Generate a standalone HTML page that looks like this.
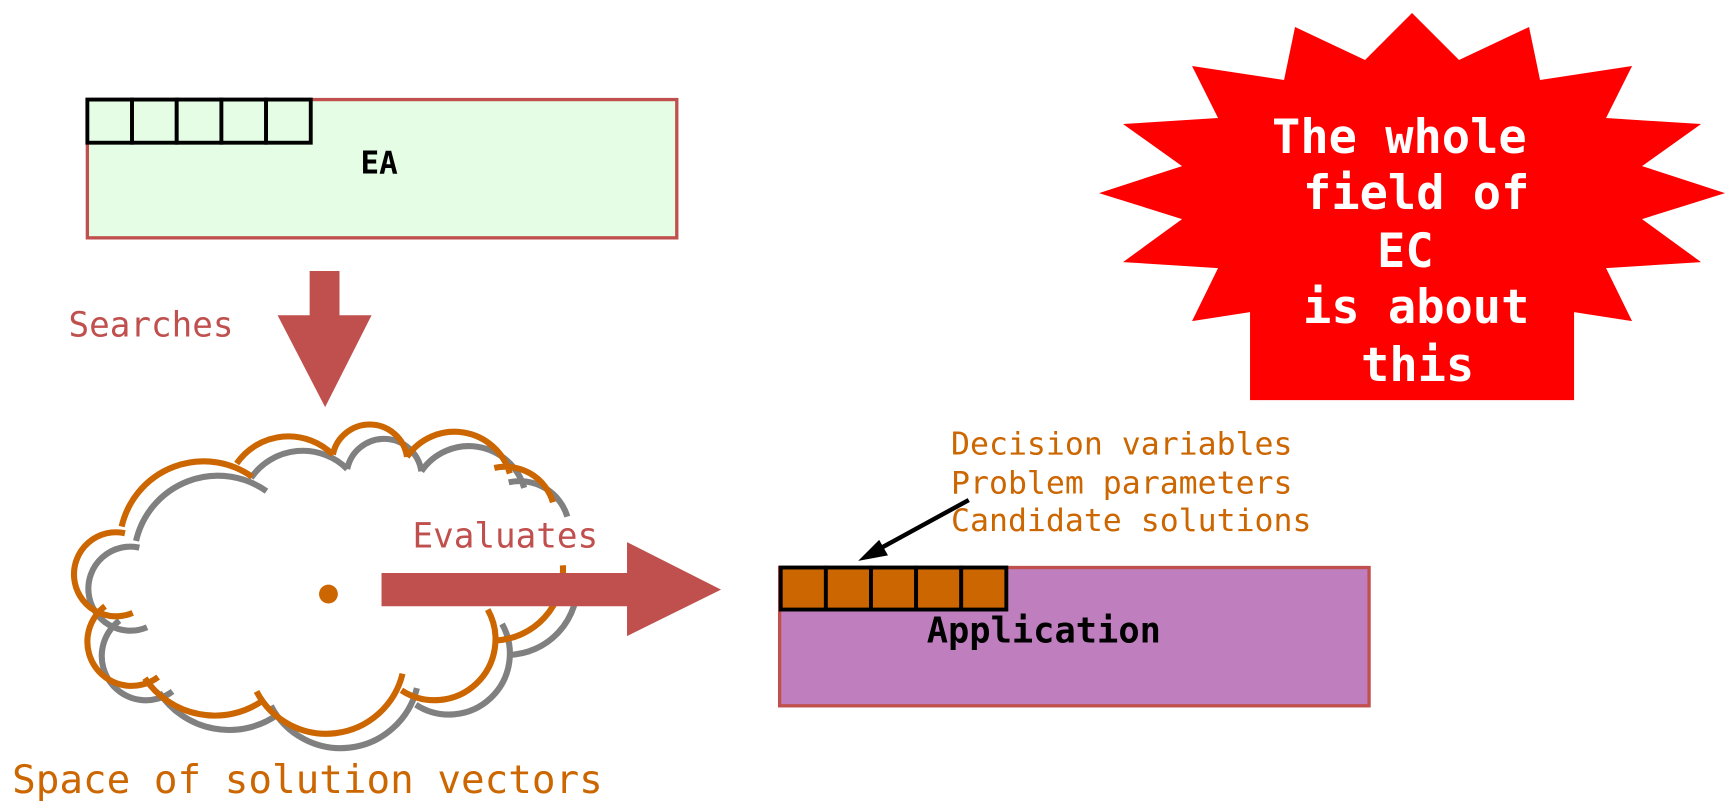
<!DOCTYPE html>
<html><head><meta charset="utf-8"><style>html,body{margin:0;padding:0;background:#fff;overflow:hidden}svg{display:block}</style></head>
<body>
<svg width="1734" height="812" viewBox="0 0 1568 734" preserveAspectRatio="none" xmlns="http://www.w3.org/2000/svg" font-family="'DejaVu Sans Mono','Liberation Mono',monospace">
<!-- EA box -->
<rect x="79" y="90" width="533" height="125" fill="#e4fde4" stroke="#c0504d" stroke-width="3"/>
<g fill="#e4fde4" stroke="#000" stroke-width="3.5">
<rect x="79" y="90" width="40.4" height="39"/><rect x="119.4" y="90" width="40.4" height="39"/><rect x="159.8" y="90" width="40.4" height="39"/><rect x="200.2" y="90" width="40.4" height="39"/><rect x="240.6" y="90" width="40.4" height="39"/>
</g>
<text x="326" y="157" font-size="28" font-weight="bold" fill="#000">EA</text>
<!-- Searches arrow -->
<polygon points="280,245 307,245 307,285 336,285 294,368 251,285 280,285" fill="#c0504d"/>
<text x="62" y="304" font-size="31" fill="#c0504d">Searches</text>
<!-- cloud -->
<g fill="none" stroke-width="5.5">
<path stroke="#808080" transform="translate(13,13)" d="M120,554 A38 38 0 1 1 113,482 M110,476 A76 76 0 0 1 228,431 M214,419 A57 57 0 0 1 301,411 M301,411 A34 34 0 0 1 368,413 M368,413 A52 52 0 0 1 461,428 M447,423 A45 45 0 0 1 500,454 M509,511 A64 64 0 0 1 447,579 M441,551 A55 55 0 0 1 363,624 M364,609 A71 71 0 0 1 232,625 M238,633 A76 76 0 0 1 131,613 M143,612 A38 38 0 0 1 95,548"/>
<path stroke="#cc6600" d="M120,554 A38 38 0 1 1 113,482 M110,476 A76 76 0 0 1 228,431 M214,419 A57 57 0 0 1 301,411 M301,411 A34 34 0 0 1 368,413 M368,413 A52 52 0 0 1 461,428 M447,423 A45 45 0 0 1 500,454 M509,511 A64 64 0 0 1 447,579 M441,551 A55 55 0 0 1 363,624 M364,609 A71 71 0 0 1 232,625 M238,633 A76 76 0 0 1 131,613 M143,612 A38 38 0 0 1 95,548"/>
</g>
<circle cx="297" cy="537" r="8.5" fill="#cc6600"/>
<!-- Evaluates arrow -->
<polygon points="345,518 567,518 567,490 652,533 567,575 567,548 345,548" fill="#c0504d"/>
<text x="373" y="495" font-size="31" fill="#c0504d">Evaluates</text>
<text x="11" y="717" font-size="35.5" fill="#cc6600">Space of solution vectors</text>
<!-- labels -->
<g font-size="28.5" fill="#cc6600">
<text x="860" y="411">Decision variables</text>
<text x="860" y="446">Problem parameters</text>
<text x="860" y="480">Candidate solutions</text>
</g>
<line x1="876" y1="452" x2="790" y2="499" stroke="#000" stroke-width="4"/>
<polygon points="776,507 795,488 803,502" fill="#000"/>
<!-- Application -->
<rect x="705" y="513" width="533" height="125" fill="#bf7fbf" stroke="#c0504d" stroke-width="3"/>
<g fill="#cc6600" stroke="#000" stroke-width="3.5">
<rect x="706" y="513" width="40.8" height="38"/><rect x="746.8" y="513" width="40.8" height="38"/><rect x="787.6" y="513" width="40.8" height="38"/><rect x="828.4" y="513" width="40.8" height="38"/><rect x="869.2" y="513" width="40.8" height="38"/>
</g>
<text x="838" y="581" font-size="32" font-weight="bold" fill="#000">Application</text>
<!-- star (real coords) -->
<g transform="scale(0.9043)">
<polygon fill="#ff0000" points="1412,13 1459,60 1529,27 1540,80 1632,66 1606,118 1701,124 1642,166 1725,193 1642,219 1701,262 1606,268 1632,321 1574,312 1574,400 1250,400 1250,312 1192,321 1218,268 1123,262 1182,219 1099,193 1182,166 1123,124 1218,118 1192,66 1284,80 1295,27 1365,60"/>
<g font-size="47" font-weight="bold" fill="#fff">
<text x="1272" y="153">The whole</text>
<text x="1303" y="209">field of</text>
<text x="1377" y="267">EC</text>
<text x="1303" y="323">is about</text>
<text x="1361" y="381">this</text>
</g>
</g>
</svg>
</body></html>
